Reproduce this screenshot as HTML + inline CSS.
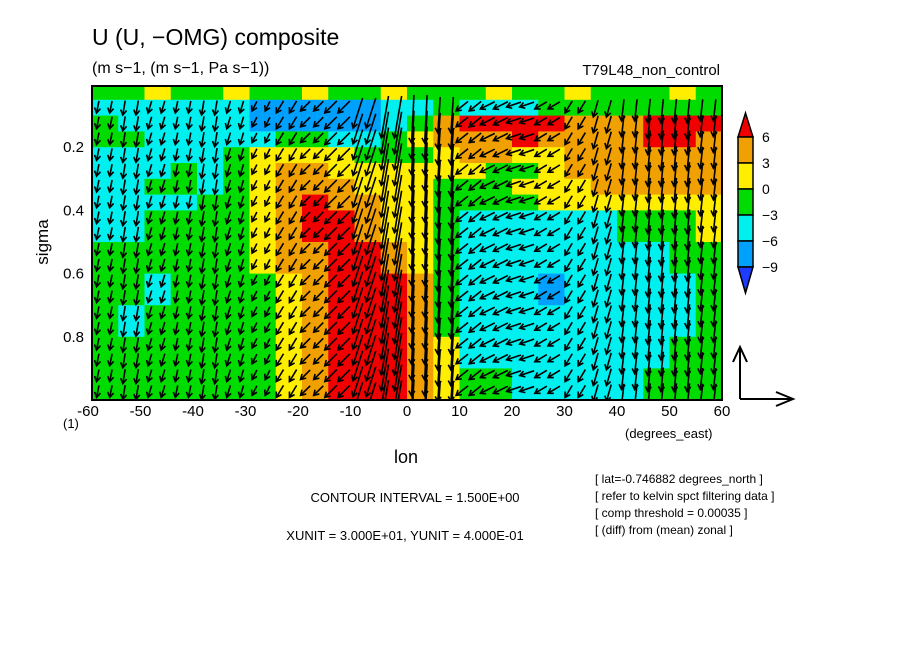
<!DOCTYPE html>
<html><head><meta charset="utf-8"><style>
body{margin:0;background:#fff;}
svg{display:block;font-family:"Liberation Sans",sans-serif;}
</style></head><body>
<svg id="chart" width="904" height="654" viewBox="0 0 904 654">
<defs><clipPath id="plotclip"><rect x="92" y="86" width="630" height="314"/></clipPath></defs>
<rect width="904" height="654" fill="#fff"/>
<g id="cells" clip-path="url(#plotclip)"></g>
<g id="arrows" clip-path="url(#plotclip)"></g>
<rect x="92" y="86" width="630" height="314" fill="none" stroke="#000" stroke-width="2"/>
<g id="axes" font-size="15" fill="#000"></g>
<text x="92" y="45" font-size="23">U (U, −OMG) composite</text>
<text x="92" y="73" font-size="16">(m s−1, (m s−1, Pa s−1))</text>
<text x="720" y="75" font-size="15" text-anchor="end">T79L48_non_control</text>
<text x="48" y="242" font-size="17" transform="rotate(-90 48 242)" text-anchor="middle">sigma</text>
<text x="406" y="463" font-size="18" text-anchor="middle">lon</text>
<text x="63" y="428" font-size="13">(1)</text>
<text x="625" y="438" font-size="13">(degrees_east)</text>
<text x="415" y="502" font-size="13" text-anchor="middle">CONTOUR INTERVAL = 1.500E+00</text>
<text x="405" y="540" font-size="13" text-anchor="middle">XUNIT = 3.000E+01, YUNIT = 4.000E-01</text>
<g font-size="12">
<text x="595" y="483">[ lat=-0.746882 degrees_north ]</text>
<text x="595" y="500">[ refer to kelvin spct filtering data ]</text>
<text x="595" y="517">[ comp threshold = 0.00035 ]</text>
<text x="595" y="534">[ (diff) from (mean) zonal ]</text>
</g>
<g id="cbar"></g>
<g stroke="#000" stroke-width="2" fill="none">
<path d="M740 399 V347 M733 362 L740 347 L747 362"/>
<path d="M740 399 H793 M776 392 L793 399 L776 406"/>
</g>
</svg>
<script>
const lonCenters=[-57.5,-52.5,-47.5,-42.5,-37.5,-32.5,-27.5,-22.5,-17.5,-12.5,-7.5,-2.5,2.5,7.5,12.5,17.5,22.5,27.5,32.5,37.5,42.5,47.5,52.5,57.5];
const sigmaEdges=[0,0.05,0.1,0.15,0.2,0.25,0.3,0.35,0.4,0.5,0.6,0.7,0.8,0.9,1.0];
const uRow0=[-1,-1,1,-1,-1,1,-1,-1,1,-1,-1,1,-1,-1,-1,1,-1,-1,1,-1,-1,-1,1,-1];
const uRow1=[-4,-4,-4,-4,-4,-4,-7,-7,-7,-7,-7,-4,-4,-2,-4,-4,-4,-2,-2,-2,-2,-2,-1,-1];
const uRow2=[-1,-4,-4,-4,-4,-4,-7,-7,-7,-7,-7,-4,-1,4,7,7,7,7,4,4,4,7,7,7];
const uRow3=[-2,-2,-4,-4,-4,-4,-4,-2,-2,-4,-4,-2,1,4,4,5,7,4,4,5,4,7,7,4];
const uRow4=[-3.5,-4,-4,-4,-4,-2,1.5,2,2,1,-1,-1,-2.5,1,4,4,1,2,4,4,4,4,4,3.5];
const uRow5=[-4,-4,-3.5,-2,-4,-1,1.5,3.5,4,2,2,1,1,2,0.5,-1,-1,1,3.5,4,4,4,3.5,3.5];
const uRow6=[-4,-4,-2,-1.5,-4,-1,1,4,4,4,2,1.5,1.5,-1,-1,-1,1,1.5,2,3.5,3.5,4,4,3.5];
const uRow7=[-4,-4,-4,-4,-1.5,-1,1,4,7,4,3.5,2,1.5,-1,-1,-1,-1,1,2,2,2,1.5,2,2];
const uRow8=[-4,-4,-2.5,-2,-2,-2,1.5,3.5,7,6.5,4,2,0.5,-1,-4,-4,-4,-4,-4,-3.2,-2,-1,-1,1];
const uRow9=[-2,-2,-2,-2,-2,-2,1,3.5,4,6.5,7,4,1.5,-2,-4,-4,-4,-5.5,-4,-4,-4,-4,-2,-2];
const uRow10=[-2,-2,-4,-2,-2,-2,-1,2,4,6.5,7,6.5,3.5,-1,-4,-4,-4,-7,-4,-4,-4,-4,-4,-2];
const uRow11=[-2,-4,-2,-2,-2,-2,-2,1,3.5,7,7,7,4,-1,-4,-4,-4,-4,-4,-4,-4,-4,-3.5,-2];
const uRow12=[-2,-2,-2,-2,-2,-2,-2,1.5,4,7,7,7,4,1,-4,-4,-4,-4,-4,-4,-4,-4,-2,-2];
const uRow13=[-2,-2,-2,-2,-2,-2,-2,2,4,7,7,7,4,1,-2,-2,-4,-4,-4,-4,-4,-2,-2,-2];
const uField=[uRow0,uRow1,uRow2,uRow3,uRow4,uRow5,uRow6,uRow7,uRow8,uRow9,uRow10,uRow11,uRow12,uRow13];
const vecU=[-2,-2,-3,-2,-2,-3,-4,-6,-8,-10,-8,-6,-2,-2,-10,-12,-12,-10,-6,-4,-2,-2,-2,-2];
const vecW=[10,12,10,10,12,10,8,10,8,10,25,35,40,30,8,6,4,6,10,14,18,20,20,18];
const levels=[-9,-6,-3,0,3,6];
const levelColors=["#1e3cff","#00a0ff","#00f0f0","#00dc00","#ffee00","#f0a000","#f00000"];
const xTicks=[-60,-50,-40,-30,-20,-10,0,10,20,30,40,50,60];
const yTicks=[0.2,0.4,0.6,0.8];
const NS="http://www.w3.org/2000/svg";
const xs=lon=>92+(lon+60)*630/120;
const ys=s=>84+316*s;
function colorOf(v){let i=0;while(i<levels.length&&v>=levels[i])i++;return levelColors[i];}
function mk(t,p,a){const e=document.createElementNS(NS,t);for(const k in a)e.setAttribute(k,a[k]);p.appendChild(e);return e;}
const cells=document.getElementById('cells');
uField.forEach((row,r)=>{row.forEach((v,c)=>{
  const x0=xs(lonCenters[c]-2.5),x1=xs(lonCenters[c]+2.5);
  const y0=Math.max(86,ys(sigmaEdges[r])),y1=ys(sigmaEdges[r+1]);
  const e=mk('rect',cells,{x:x0,y:y0,width:x1-x0+0.5,height:y1-y0+0.5,fill:colorOf(v)});
  
  
});});
const arr=document.getElementById('arrows');
for(let j=0;j<48;j++){
  const lon=-60+2.5*j+1.25;const c=Math.floor(j/2);
  for(let s=0.06;s<1.0;s+=0.05){
    const x=xs(lon),y=ys(s);
    const dx=vecU[c],dy=vecW[c];
    const x2=x+dx,y2=y+dy;const L=Math.hypot(dx,dy)||1;const ux=dx/L,uy=dy/L;
    const hx=x2-ux*5,hy=y2-uy*5;
    const p=mk('path',arr,{d:`M${x-dx*0.2} ${y-dy*0.2} L${x2} ${y2} M${hx-uy*3} ${hy+ux*3} L${x2} ${y2} L${hx+uy*3} ${hy-ux*3}`,stroke:'#000','stroke-width':1.6,fill:'none'});
    
    
  }
}
const axes=document.getElementById('axes');
xTicks.forEach(t=>{
  const e=mk('text',axes,{x:xs(t)+(t<0?-4:0),y:416,'text-anchor':'middle'});e.textContent=t;
  
  
});
yTicks.forEach(t=>{
  const e=mk('text',axes,{x:84,y:ys(t)+5,'text-anchor':'end'});e.textContent=t;
  
  
});
const cb=document.getElementById('cbar');
const cbx=738,cbw=15,cbTop=113,bh=26;
mk('path',cb,{d:`M${cbx} ${cbTop+24} L${cbx+cbw/2} ${cbTop} L${cbx+cbw} ${cbTop+24}Z`,fill:levelColors[6],stroke:'#000','stroke-width':1.5});
for(let i=0;i<5;i++){
  const e=mk('rect',cb,{x:cbx,y:cbTop+24+i*bh,width:cbw,height:bh,fill:levelColors[5-i],stroke:'#000','stroke-width':1.5});
  
  
}
const by=cbTop+24+5*bh;
mk('path',cb,{d:`M${cbx} ${by} L${cbx+cbw/2} ${by+26} L${cbx+cbw} ${by}Z`,fill:levelColors[0],stroke:'#000','stroke-width':1.5});
levels.slice().reverse().forEach((l,i)=>{
  const e=mk('text',cb,{x:762,y:cbTop+24+i*bh+5,'font-size':14});e.textContent=l<0?'−'+(-l):l;
  
  
});
</script>
</body></html>
